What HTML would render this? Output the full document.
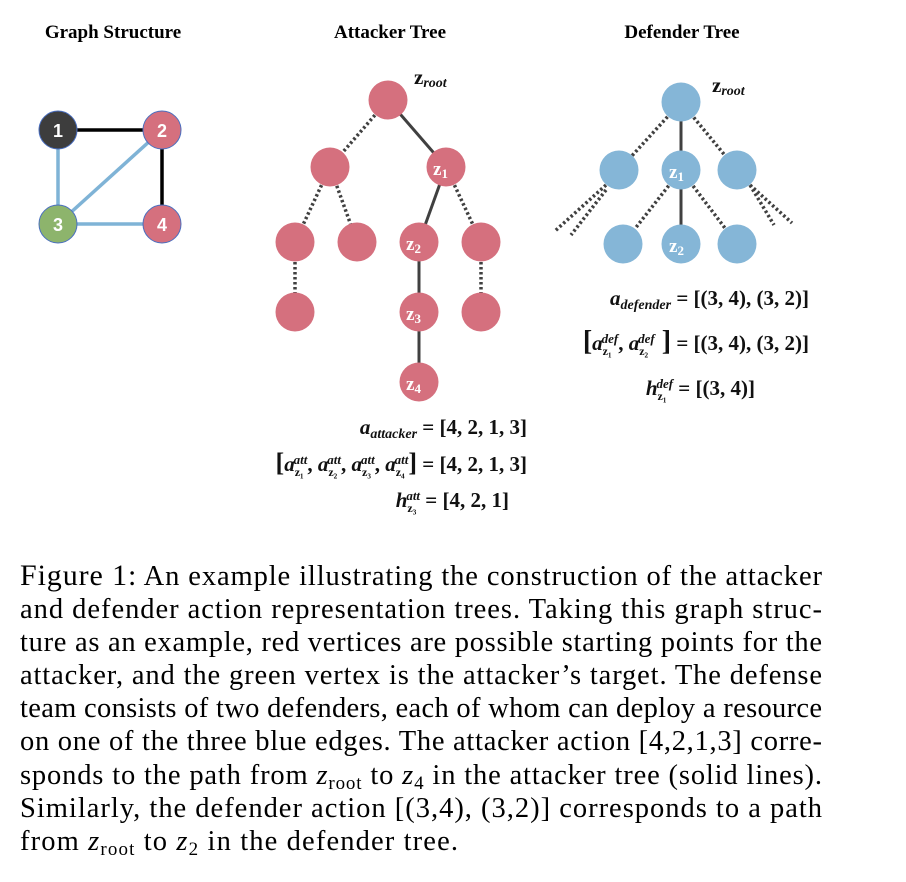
<!DOCTYPE html>
<html><head><meta charset="utf-8"><style>
html,body{margin:0;padding:0;background:#fff;}
svg{display:block;}
.t{font-family:"Liberation Serif",serif;font-weight:bold;font-size:19px;fill:#000;}
.m{font-family:"Liberation Serif",serif;font-weight:bold;font-size:21px;fill:#111;}
.mi{font-style:italic;}
.cap{font-family:"Liberation Serif",serif;font-size:28.5px;fill:#000;}
.nl{font-family:"Liberation Sans",sans-serif;font-weight:bold;font-size:18px;fill:#fff;}
.zl{font-family:"Liberation Serif",serif;font-weight:bold;font-size:19px;fill:#fff;}
</style></head><body>
<svg width="906" height="882" viewBox="0 0 906 882" xmlns="http://www.w3.org/2000/svg">
<rect width="906" height="882" fill="#fff"/>
<text class="t" x="113" y="38" text-anchor="middle">Graph Structure</text>
<text class="t" x="390" y="38" text-anchor="middle">Attacker Tree</text>
<text class="t" x="682" y="38" text-anchor="middle">Defender Tree</text>

<g stroke-width="3.5">
<line x1="58" y1="130" x2="162" y2="130" stroke="#000"/>
<line x1="162" y1="130" x2="162" y2="224" stroke="#000"/>
<line x1="58" y1="130" x2="58" y2="224" stroke="#7fb3d6"/>
<line x1="58" y1="224" x2="162" y2="224" stroke="#7fb3d6"/>
<line x1="58" y1="224" x2="162" y2="130" stroke="#7fb3d6"/>
</g>
<g stroke="#4a6fc0" stroke-width="1">
<circle cx="58" cy="130" r="19" fill="#3d3d3d"/>
<circle cx="162" cy="130" r="19" fill="#d5707e"/>
<circle cx="58" cy="224" r="19" fill="#8db46c"/>
<circle cx="162" cy="224" r="19" fill="#d5707e"/>
</g>
<text class="nl" x="58" y="137" text-anchor="middle">1</text>
<text class="nl" x="162" y="137" text-anchor="middle">2</text>
<text class="nl" x="58" y="231" text-anchor="middle">3</text>
<text class="nl" x="162" y="231" text-anchor="middle">4</text>

<g stroke="#404040" stroke-width="3.5" stroke-dasharray="2.5,2.5">
<line x1="388" y1="100" x2="330" y2="167"/>
<line x1="330" y1="167" x2="295" y2="242"/>
<line x1="330" y1="167" x2="357" y2="242"/>
<line x1="446" y1="167" x2="481" y2="242"/>
<line x1="295" y1="242" x2="295" y2="312"/>
<line x1="481" y1="242" x2="481" y2="312"/>
</g>
<g stroke="#404040" stroke-width="3">
<line x1="388" y1="100" x2="446" y2="167"/>
<line x1="446" y1="167" x2="419" y2="242"/>
<line x1="419" y1="242" x2="419" y2="382"/>
</g>
<g fill="#d5707e">
<circle cx="388" cy="100" r="19.5"/>
<circle cx="330" cy="167" r="19.5"/><circle cx="446" cy="167" r="19.5"/>
<circle cx="295" cy="242" r="19.5"/><circle cx="357" cy="242" r="19.5"/><circle cx="419" cy="242" r="19.5"/><circle cx="481" cy="242" r="19.5"/>
<circle cx="295" cy="312" r="19.5"/><circle cx="419" cy="312" r="19.5"/><circle cx="481" cy="312" r="19.5"/>
<circle cx="419" cy="382" r="19.5"/>
</g>
<text class="zl" x="433" y="175">z<tspan font-size="13" dy="3">1</tspan></text>
<text class="zl" x="406" y="250">z<tspan font-size="13" dy="3">2</tspan></text>
<text class="zl" x="406" y="320">z<tspan font-size="13" dy="3">3</tspan></text>
<text class="zl" x="406" y="390">z<tspan font-size="13" dy="3">4</tspan></text>
<text class="m" x="414" y="84"><tspan>z</tspan><tspan class="mi" font-size="14" dy="3">root</tspan></text>

<text class="m" x="527" y="434" text-anchor="end"><tspan class="mi">a</tspan><tspan class="mi" font-size="14" dy="4">attacker</tspan><tspan dy="-4"> = [4, 2, 1, 3]</tspan></text>
<text class="m" x="527" y="471" text-anchor="end"><tspan font-size="26">[</tspan><tspan class="mi">a</tspan><tspan font-size="12" dy="5">z₁</tspan><tspan class="mi" font-size="13" dx="-10" dy="-12">att</tspan><tspan dy="7">, </tspan><tspan class="mi">a</tspan><tspan font-size="12" dy="5">z₂</tspan><tspan class="mi" font-size="13" dx="-10" dy="-12">att</tspan><tspan dy="7">, </tspan><tspan class="mi">a</tspan><tspan font-size="12" dy="5">z₃</tspan><tspan class="mi" font-size="13" dx="-10" dy="-12">att</tspan><tspan dy="7">, </tspan><tspan class="mi">a</tspan><tspan font-size="12" dy="5">z₄</tspan><tspan class="mi" font-size="13" dx="-10" dy="-12">att</tspan><tspan font-size="26" dy="7">]</tspan><tspan> = [4, 2, 1, 3]</tspan></text>
<text class="m" x="509" y="507" text-anchor="end"><tspan class="mi">h</tspan><tspan font-size="12" dy="5">z₃</tspan><tspan class="mi" font-size="13" dx="-10" dy="-12">att</tspan><tspan dy="7"> = [4, 2, 1]</tspan></text>

<g stroke="#404040" stroke-width="3.5" stroke-dasharray="2.5,2.5">
<line x1="681" y1="102" x2="619" y2="170"/>
<line x1="681" y1="102" x2="737" y2="170"/>
<line x1="681" y1="170" x2="623" y2="244"/>
<line x1="681" y1="170" x2="737" y2="244"/>
<line x1="606" y1="185" x2="555" y2="231"/>
<line x1="606" y1="190" x2="571" y2="235"/>
<line x1="750" y1="185" x2="774" y2="225"/>
<line x1="750" y1="185" x2="792" y2="223"/>
</g>
<g stroke="#404040" stroke-width="3">
<line x1="681" y1="102" x2="681" y2="244"/>
</g>
<g fill="#85b6d7">
<circle cx="681" cy="102" r="19.5"/>
<circle cx="619" cy="170" r="19.5"/><circle cx="681" cy="170" r="19.5"/><circle cx="737" cy="170" r="19.5"/>
<circle cx="623" cy="244" r="19.5"/><circle cx="681" cy="244" r="19.5"/><circle cx="737" cy="244" r="19.5"/>
</g>
<text class="zl" x="669" y="178">z<tspan font-size="13" dy="3">1</tspan></text>
<text class="zl" x="669" y="252">z<tspan font-size="13" dy="3">2</tspan></text>
<text class="m" x="712" y="92"><tspan>z</tspan><tspan class="mi" font-size="14" dy="3">root</tspan></text>

<text class="m" x="809" y="305" text-anchor="end"><tspan class="mi">a</tspan><tspan class="mi" font-size="14" dy="4">defender</tspan><tspan dy="-4"> = [(3, 4), (3, 2)]</tspan></text>
<text class="m" x="809" y="350" text-anchor="end"><tspan font-size="28">[</tspan><tspan class="mi">a</tspan><tspan font-size="12" dy="5">z₁</tspan><tspan class="mi" font-size="13" dx="-10" dy="-12">def</tspan><tspan dy="7">, </tspan><tspan class="mi">a</tspan><tspan font-size="12" dy="5">z₂</tspan><tspan class="mi" font-size="13" dx="-10" dy="-12">def</tspan><tspan font-size="28" dy="7"> ]</tspan><tspan> = [(3, 4), (3, 2)]</tspan></text>
<text class="m" x="755" y="395" text-anchor="end"><tspan class="mi">h</tspan><tspan font-size="12" dy="5">z₁</tspan><tspan class="mi" font-size="13" dx="-10" dy="-12">def</tspan><tspan dy="7"> = [(3, 4)]</tspan></text>

<g class="cap">
<text x="20" y="585" textLength="802" lengthAdjust="spacing"><tspan font-size="30">Figure 1:</tspan> An example illustrating the construction of the attacker</text>
<text x="20" y="618" textLength="802" lengthAdjust="spacing">and defender action representation trees. Taking this graph struc-</text>
<text x="20" y="651" textLength="802" lengthAdjust="spacing">ture as an example, red vertices are possible starting points for the</text>
<text x="20" y="684" textLength="802" lengthAdjust="spacing">attacker, and the green vertex is the attacker’s target. The defense</text>
<text x="20" y="717" textLength="802" lengthAdjust="spacing">team consists of two defenders, each of whom can deploy a resource</text>
<text x="20" y="750" textLength="802" lengthAdjust="spacing">on one of the three blue edges. The attacker action [4,2,1,3] corre-</text>
<text x="20" y="784" textLength="802" lengthAdjust="spacing">sponds to the path from <tspan font-style="italic">z</tspan><tspan font-size="19" dy="5">root</tspan><tspan dy="-5"> to </tspan><tspan font-style="italic">z</tspan><tspan font-size="19" dy="5">4</tspan><tspan dy="-5"> in the attacker tree (solid lines).</tspan></text>
<text x="20" y="817" textLength="802" lengthAdjust="spacing">Similarly, the defender action [(3,4), (3,2)] corresponds to a path</text>
<text x="20" y="850" textLength="438" lengthAdjust="spacing">from <tspan font-style="italic">z</tspan><tspan font-size="19" dy="5">root</tspan><tspan dy="-5"> to </tspan><tspan font-style="italic">z</tspan><tspan font-size="19" dy="5">2</tspan><tspan dy="-5"> in the defender tree.</tspan></text>
</g>
</svg>
</body></html>
